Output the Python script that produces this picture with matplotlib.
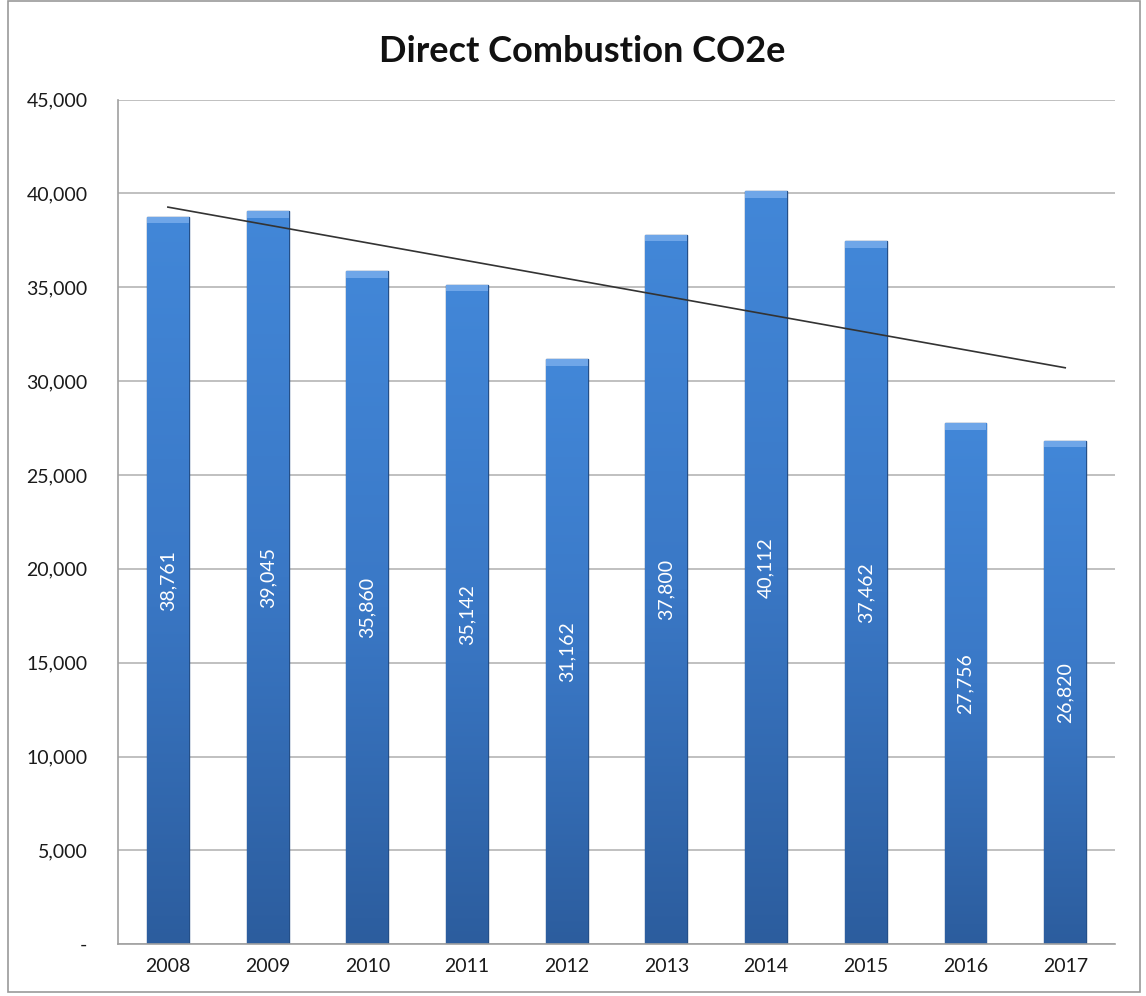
import matplotlib.pyplot as plt
import numpy as np
from matplotlib.patches import Rectangle
from matplotlib.colors import LinearSegmentedColormap

years = ['2008', '2009', '2010', '2011', '2012', '2013', '2014', '2015', '2016', '2017']
co2e = [38761, 39045, 35860, 35142, 31162, 37800, 40112, 37462, 27756, 26820]

plt.rcParams['font.family'] = ['Lato', 'DejaVu Sans']

fig = plt.figure(figsize=(11.46, 9.96), dpi=100)
ax = fig.add_axes([0.103, 0.052, 0.870, 0.848])

x = np.arange(len(years))
width = 0.42
bars = ax.bar(x, co2e, width, color='#3b79c8', edgecolor='#244f88', linewidth=1.0, zorder=2)

# vertical gradient inside each bar
cmap = LinearSegmentedColormap.from_list('barblue', ['#2c5d9e', '#3a78c6', '#4287d8'])
grad = np.linspace(0, 1, 256).reshape(-1, 1)
for b in bars:
    x0, w, h = b.get_x(), b.get_width(), b.get_height()
    im = ax.imshow(grad, cmap=cmap, aspect='auto', origin='lower',
                   extent=(x0, x0 + w, 0, h), zorder=2.1)
    im.set_clip_path(b)
    # light bevel at top
    ax.add_patch(Rectangle((x0, h - 350), w, 350, color='#6fa6e8', zorder=2.2, lw=0))
    ax.text(x0 + w / 2, h / 2, f'{h:,.0f}', rotation=90, ha='center', va='center',
            color='white', fontsize=14, zorder=3)

# linear trendline
coef = np.polyfit(x, co2e, 1)
ax.plot(x, np.polyval(coef, x), color='#333333', lw=1.2, zorder=4)

ax.set_xlim(-0.5, len(years) - 0.5)
ax.set_ylim(0, 45000)
ax.set_yticks(np.arange(0, 45001, 5000))
ax.set_yticklabels(['-'] + [f'{v:,}' for v in range(5000, 45001, 5000)])
ax.set_xticks(x)
ax.set_xticklabels(years)
ax.tick_params(axis='both', length=0, labelsize=14, colors='#1a1a1a')
ax.tick_params(axis='y', pad=22)
ax.tick_params(axis='x', pad=10)
ax.grid(axis='y', color='#b5b5b5', lw=1.2, zorder=0)
ax.set_axisbelow(True)
for s in ['top', 'right']:
    ax.spines[s].set_visible(False)
for s in ['left', 'bottom']:
    ax.spines[s].set_color('#a0a0a0')
    ax.spines[s].set_linewidth(1.2)

fig.text(0.508, 0.948, 'Direct Combustion CO2e', ha='center', va='center',
         fontsize=26, fontweight='bold', color='#111111')

fig.patches.append(Rectangle((0.007, 0.004), 0.988, 0.995, transform=fig.transFigure,
                             fill=False, edgecolor='#999999', lw=1.2))

plt.savefig('out.png', dpi=100)
